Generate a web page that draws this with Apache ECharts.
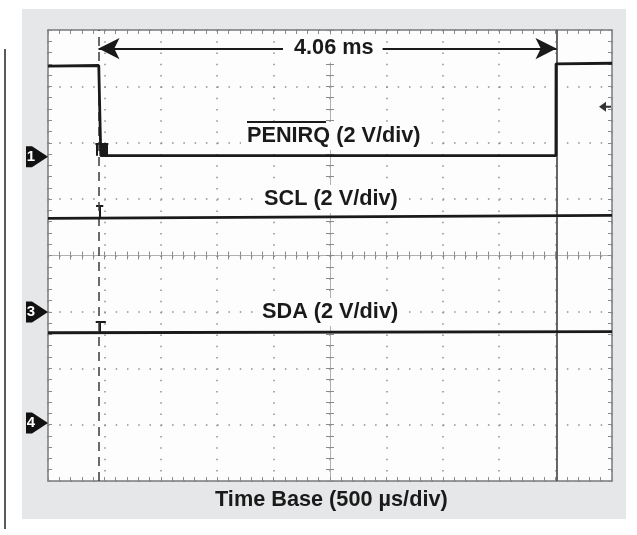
<!DOCTYPE html>
<html><head><meta charset="utf-8">
<script src="https://cdn.jsdelivr.net/npm/echarts@6/dist/echarts.min.js"></script>
<style>
html,body{margin:0;padding:0;background:#fff;}
#wrap{position:relative;width:637px;height:535px;overflow:hidden;}
#panel{position:absolute;left:22px;top:9px;width:604px;height:510px;background:#e6e7e8;}
#rule{position:absolute;left:4px;top:49px;width:2px;height:480px;background:#5a5a5a;}
#chart{position:absolute;left:0;top:0;width:637px;height:535px;}
</style></head><body>
<div id="wrap"><div id="panel"></div><div id="rule"></div><div id="chart"></div></div>
<script>
// ---- data (time in µs, vertical in screen divisions) ----
const xMin = 0, xMax = 5000, xDiv = 500;      // 10 div × 500 µs
const yMin = -4, yMax = 4, yDiv = 1;          // 8 vertical divisions
const penirqTrace = [[0, 3.36], [450, 3.37], [468, 1.77], [4503, 1.77], [4504, 3.40], [5000, 3.41]];
const sclTrace = [[0, 0.66], [5000, 0.71]];
const sdaTrace = [[0, -1.37], [5000, -1.35]];
const cursorTimes = [448, 4508];              // 4.06 ms apart
const measureLevel = 3.67;
const measureText = '4.06 ms';
// [stem time, base level, top level, bar start, bar end]
const cursorTicks = [[457, 0.66, 0.88, 426, 490], [461, -1.37, -1.18, 423, 513], [435, 1.77, 1.99, 420, 535]];
const penirqBlock = [[461, 1.77], [532, 1.99]];
const channelMarkers = [[0, 1.75, '1'], [0, -1.0, '3'], [0, -2.97, '4']];
const triggerMarker = [[4938, 2.64]];
const labels = ['PENIRQ (2 V/div)', 'SCL (2 V/div)', 'SDA (2 V/div)', 'Time Base (500 µs/div)'];

const INK = '#1a1a1a';
const tickStyle = {color: '#8a8a8a', width: 1};
const borderLine = {show: true, onZero: false, lineStyle: {color: '#7a7a7a', width: 1.5}};
const FONT = 'bold 21.7px "Liberation Sans", Arial, sans-serif';

function axis(dim, pos, offset, inside, line, split) {
  return {
    type: 'value', position: pos, offset: offset,
    min: dim === 'x' ? xMin : yMin, max: dim === 'x' ? xMax : yMax, interval: dim === 'x' ? xDiv : yDiv,
    axisLabel: {show: false},
    axisLine: line || {show: false, onZero: false},
    axisTick: {show: true, inside: inside, length: 4, lineStyle: tickStyle},
    minorTick: {show: true, splitNumber: 5, length: 4, lineStyle: tickStyle},
    splitLine: split || {show: false}
  };
}
const dotted = {show: true, lineStyle: {color: '#8f8f8f', width: 1.5, type: [1.5, 9.78]}};
const centerLine = {show: true, onZero: false, lineStyle: {color: '#b0b0b0', width: 1}};

const cursorLines = [
  {xAxis: cursorTimes[0], lineStyle: {type: [9, 6], color: '#3a3a3a', width: 1.5}},
  {xAxis: cursorTimes[1], lineStyle: {type: 'solid', color: '#555', width: 1.8}}
];
const tickLines = [];
cursorTicks.forEach(c => {
  tickLines.push([{coord: [c[0], c[1]]}, {coord: [c[0], c[2]]}]);
  tickLines.push([{coord: [c[3], c[2]]}, {coord: [c[4], c[2]]}]);
});

const chart = echarts.init(document.getElementById('chart'), null, {renderer: 'canvas'});
chart.setOption({
  animation: false,
  backgroundColor: 'transparent',
  grid: {left: 48, top: 30, width: 564, height: 451, show: true, backgroundColor: '#fdfdfd', borderWidth: 0, containLabel: false, outerBoundsMode: 'none'},
  xAxis: [
    axis('x', 'bottom', 0, true, borderLine, dotted),
    axis('x', 'top', 0, true, borderLine),
    axis('x', 'bottom', -225.5, true, centerLine),
    axis('x', 'bottom', -225.5, false)
  ],
  yAxis: [
    axis('y', 'left', 0, true, borderLine, dotted),
    axis('y', 'right', 0, true, borderLine),
    axis('y', 'left', -282, true, centerLine),
    axis('y', 'left', -282, false)
  ],
  series: [
    {type: 'line', name: 'PENIRQ', data: penirqTrace, showSymbol: false, z: 5,
      lineStyle: {color: INK, width: 2.8},
      markLine: {silent: true, symbol: 'none', label: {show: false}, lineStyle: {type: 'solid', color: INK, width: 2}, data: tickLines},
      markArea: {silent: true, itemStyle: {color: INK, opacity: 1}, data: [[{coord: penirqBlock[0]}, {coord: penirqBlock[1]}]]}
    },
    {type: 'line', name: 'SCL', data: sclTrace, showSymbol: false, z: 5, lineStyle: {color: INK, width: 2.8},
      markLine: {silent: true, symbol: 'none', label: {show: false}, data: cursorLines}
    },
    {type: 'line', name: 'SDA', data: sdaTrace, showSymbol: false, z: 5, lineStyle: {color: INK, width: 2.8},
      markLine: {silent: true, symbol: ['arrow', 'arrow'], symbolSize: [16, 21], label: {show: false},
        lineStyle: {type: 'solid', color: INK, width: 2},
        data: [[{coord: [cursorTimes[0], measureLevel]}, {coord: [cursorTimes[1], measureLevel]}]]}
    },
    {type: 'scatter', data: channelMarkers, clip: false, z: 10,
      symbol: 'path://M0 0L6 0L22 10L6 20L0 20Z', symbolSize: [22, 21], symbolOffset: [-11, 0],
      itemStyle: {color: '#111', opacity: 1},
      label: {show: true, position: 'inside', offset: [-6, 0], formatter: p => p.value[2], color: '#fff', fontWeight: 'bold', fontSize: 15, fontFamily: 'Liberation Sans'}
    },
    {type: 'scatter', data: triggerMarker, clip: false, z: 10,
      symbol: 'path://M0 5L7 0L7 4L12 4L12 6L7 6L7 10Z', symbolSize: [12, 10], itemStyle: {color: '#333', opacity: 1}}
  ],
  graphic: [
    {type: 'text', x: 283, y: 48.5, z: 100, style: {text: measureText, font: FONT, fill: INK, verticalAlign: 'middle', align: 'left', backgroundColor: '#fdfdfd', padding: [3, 9, 3, 11]}},
    {type: 'text', x: 241, y: 136, z: 100, style: {text: labels[0], font: FONT, fill: INK, verticalAlign: 'middle', align: 'left', backgroundColor: '#fdfdfd', padding: [3, 6, 3, 6]}},
    {type: 'line', z: 101, shape: {x1: 247, y1: 122, x2: 326, y2: 122}, style: {stroke: INK, lineWidth: 2}},
    {type: 'text', x: 258, y: 199, z: 100, style: {text: labels[1], font: FONT, fill: INK, verticalAlign: 'middle', align: 'left', backgroundColor: '#fdfdfd', padding: [3, 6, 3, 6]}},
    {type: 'text', x: 256, y: 312, z: 100, style: {text: labels[2], font: FONT, fill: INK, verticalAlign: 'middle', align: 'left', backgroundColor: '#fdfdfd', padding: [3, 6, 3, 6]}},
    {type: 'text', x: 215, y: 500, z: 100, style: {text: labels[3], font: FONT, fill: INK, verticalAlign: 'middle', align: 'left'}}
  ]
});
</script></body></html>
